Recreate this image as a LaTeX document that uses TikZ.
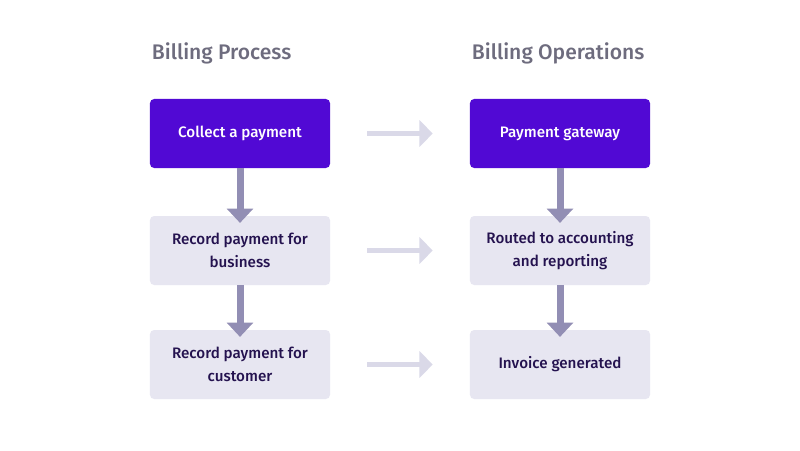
\documentclass[tikz,border=0pt]{standalone}
\usepackage{fontspec}
\setmainfont{Fira Sans}[UprightFont={* Medium}]
\usepackage{xcolor}
\usepackage{tikz}
\usetikzlibrary{arrows.meta}
\definecolor{title}{HTML}{6E6C7E}
\definecolor{ink}{HTML}{24124F}
\definecolor{brand}{HTML}{5109D4}
\definecolor{pale}{HTML}{E7E6F1}
\definecolor{flow}{HTML}{928EB4}
\definecolor{faint}{HTML}{DAD9E8}
\tikzset{
  head/.style={anchor=west, text=title, font=\fontsize{15}{18}\selectfont},
  box/.style={rectangle, rounded corners=3pt, minimum width=4.5cm, minimum height=1.725cm,
    align=center, font=\fontsize{10.8}{16.5}\selectfont},
  mainbox/.style={box, fill=brand, text=white},
  subbox/.style={box, fill=pale, text=ink},
  down/.style={-{Triangle[width=0.65cm,length=0.36cm]}, line width=0.175cm, draw=flow, shorten >=-0.18cm},
  across/.style={-{Triangle[width=0.65cm,length=0.33cm]}, line width=0.14cm, draw=faint,
    shorten <=0.925cm, shorten >=0.925cm}
}
\begin{document}
\begin{tikzpicture}[x=0.025cm, y=-0.025cm]
  \useasboundingbox[fill=white] (0,0) rectangle (800,450);

  \node[head] (process) at (147,53) {Billing Process};
  \node[head] (operations) at (467,53) {Billing Operations};

  \node[mainbox] (collect) at (240,133.5) {Collect a payment};
  \node[subbox] (business) at (240,250.5) {Record payment for\\business};
  \node[subbox] (customer) at (240,364.5) {Record payment for\\customer};

  \node[mainbox] (gateway) at (560,133.5) {Payment gateway};
  \node[subbox] (routed) at (560,250.5) {Routed to accounting\\and reporting};
  \node[subbox] (invoice) at (560,364.5) {Invoice generated};

  \draw[down] (collect) -- (business);
  \draw[down] (business) -- (customer);
  \draw[down] (gateway) -- (routed);
  \draw[down] (routed) -- (invoice);

  \draw[across] (collect) -- (gateway);
  \draw[across] (business) -- (routed);
  \draw[across] (customer) -- (invoice);
\end{tikzpicture}
\end{document}
